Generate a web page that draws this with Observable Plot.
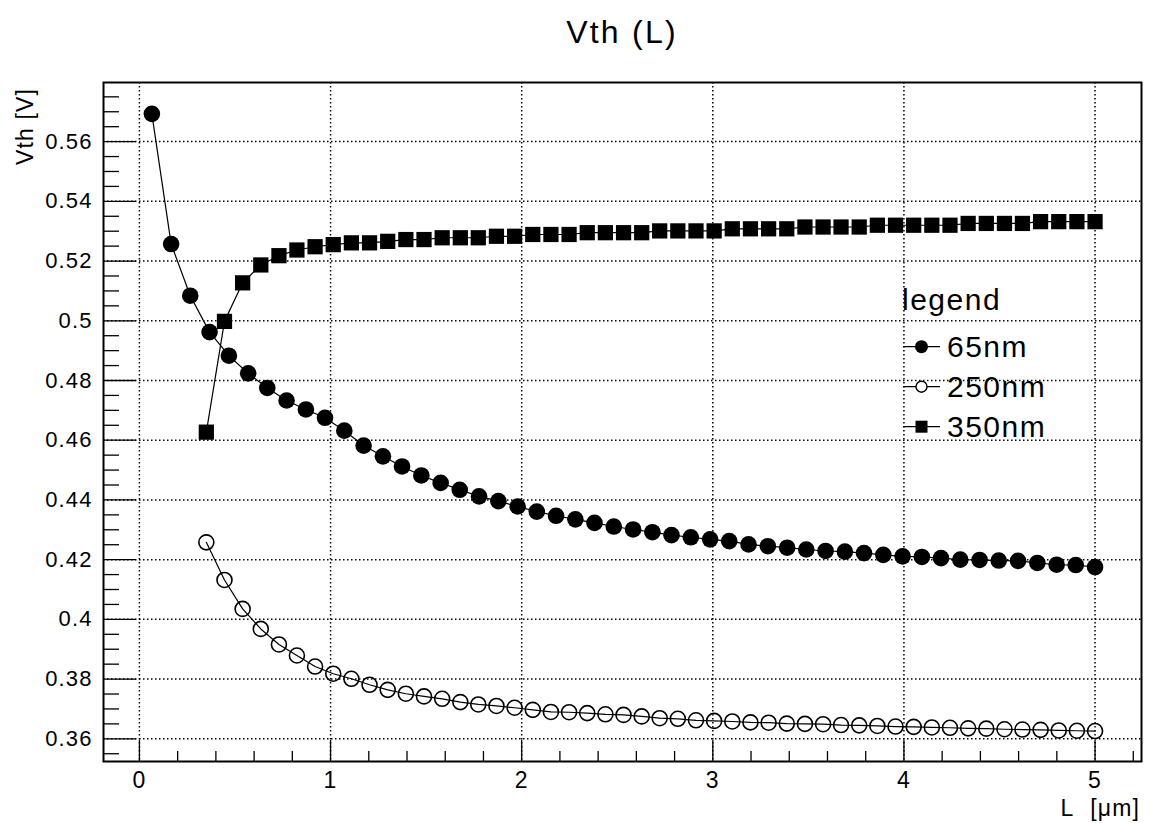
<!DOCTYPE html>
<html>
<head>
<meta charset="utf-8">
<script src="https://cdn.jsdelivr.net/npm/d3@7"></script>
<script src="https://cdn.jsdelivr.net/npm/@observablehq/plot@0.6"></script>
<style>
html, body { margin: 0; padding: 0; background: #fff; }
#chart svg text { letter-spacing: 0.05em; }
</style>
</head>
<body>
<div id="chart"></div>
<script>
// ---------- data ----------
const title = "Vth (L)";
const xLabel = "L [\u03bcm]";
const yLabel = "Vth [V]";
const legendTitle = "legend";
const seriesNames = ["65nm", "250nm", "350nm"];

const xTicks = [0, 1, 2, 3, 4, 5];
const xTickLabels = ["0", "1", "2", "3", "4", "5"];
const yTicks = [0.36, 0.38, 0.40, 0.42, 0.44, 0.46, 0.48, 0.50, 0.52, 0.54, 0.56];
const yTickLabels = ["0.36", "0.38", "0.4", "0.42", "0.44", "0.46", "0.48", "0.5", "0.52", "0.54", "0.56"];

const L65 = [0.065, 0.166, 0.266, 0.367, 0.468, 0.569, 0.669, 0.770, 0.871, 0.971,
             1.072, 1.173, 1.274, 1.374, 1.475, 1.576, 1.676, 1.777, 1.878, 1.979,
             2.079, 2.180, 2.281, 2.381, 2.482, 2.583, 2.684, 2.784, 2.885, 2.986,
             3.086, 3.187, 3.288, 3.389, 3.489, 3.590, 3.691, 3.791, 3.892, 3.993,
             4.094, 4.194, 4.295, 4.396, 4.496, 4.597, 4.698, 4.799, 4.899, 5.000];
const Vth65 = [0.5693, 0.5257, 0.5084, 0.4962, 0.4883, 0.4824, 0.4775, 0.4733, 0.4703, 0.4675,
               0.4632, 0.4582, 0.4546, 0.4512, 0.4482, 0.4457, 0.4434, 0.4412, 0.4396, 0.4378,
               0.4361, 0.4347, 0.4335, 0.4323, 0.4311, 0.4301, 0.4292, 0.4282, 0.4275, 0.4268,
               0.4262, 0.4251, 0.4245, 0.4240, 0.4234, 0.4229, 0.4227, 0.4222, 0.4216, 0.4211,
               0.4209, 0.4205, 0.4200, 0.4199, 0.4197, 0.4196, 0.4189, 0.4183, 0.4182, 0.4175];

const L250 = [0.350, 0.445, 0.540, 0.635, 0.730, 0.824, 0.919, 1.014, 1.109, 1.204,
              1.299, 1.394, 1.489, 1.584, 1.679, 1.773, 1.868, 1.963, 2.058, 2.153,
              2.248, 2.343, 2.438, 2.533, 2.628, 2.722, 2.817, 2.912, 3.007, 3.102,
              3.197, 3.292, 3.387, 3.482, 3.577, 3.671, 3.766, 3.861, 3.956, 4.051,
              4.146, 4.241, 4.336, 4.431, 4.526, 4.620, 4.715, 4.810, 4.905, 5.000];
const Vth250 = [0.4258, 0.4132, 0.4035, 0.3968, 0.3916, 0.3879, 0.3842, 0.3818, 0.3801, 0.3781,
                0.3764, 0.3751, 0.3742, 0.3734, 0.3723, 0.3715, 0.3710, 0.3704, 0.3697, 0.3690,
                0.3689, 0.3686, 0.3682, 0.3680, 0.3675, 0.3669, 0.3667, 0.3662, 0.3660, 0.3658,
                0.3655, 0.3654, 0.3651, 0.3650, 0.3649, 0.3646, 0.3645, 0.3643, 0.3641, 0.3640,
                0.3638, 0.3637, 0.3635, 0.3634, 0.3632, 0.3631, 0.3630, 0.3628, 0.3627, 0.3626];

const L350 = [0.350, 0.445, 0.540, 0.635, 0.730, 0.824, 0.919, 1.014, 1.109, 1.204,
              1.299, 1.394, 1.489, 1.584, 1.679, 1.773, 1.868, 1.963, 2.058, 2.153,
              2.248, 2.343, 2.438, 2.533, 2.628, 2.722, 2.817, 2.912, 3.007, 3.102,
              3.197, 3.292, 3.387, 3.482, 3.577, 3.671, 3.766, 3.861, 3.956, 4.051,
              4.146, 4.241, 4.336, 4.431, 4.526, 4.620, 4.715, 4.810, 4.905, 5.000];
const Vth350 = [0.4627, 0.4998, 0.5127, 0.5187, 0.5218, 0.5237, 0.5248, 0.5255, 0.5261, 0.5261,
                0.5266, 0.5272, 0.5272, 0.5278, 0.5278, 0.5278, 0.5283, 0.5283, 0.5289, 0.5289,
                0.5289, 0.5295, 0.5295, 0.5295, 0.5295, 0.5301, 0.5301, 0.5301, 0.5301, 0.5308,
                0.5308, 0.5308, 0.5308, 0.5314, 0.5314, 0.5314, 0.5314, 0.5320, 0.5320, 0.5320,
                0.5320, 0.5320, 0.5326, 0.5326, 0.5326, 0.5326, 0.5332, 0.5332, 0.5332, 0.5332];

// ---------- build ----------
const d65 = L65.map((L, i) => ({L, V: Vth65[i], s: seriesNames[0]}));
const d250 = L250.map((L, i) => ({L, V: Vth250[i], s: seriesNames[1]}));
const d350 = L350.map((L, i) => ({L, V: Vth350[i], s: seriesNames[2]}));

const xMinor = d3.range(0, 27).map(i => +(i * 0.2).toFixed(1)).filter(v => !Number.isInteger(v));
const yMinor = d3.range(71, 116).filter(i => i % 4 !== 0).map(i => +(i * 0.005).toFixed(3));

const FONT = "'Liberation Sans', Arial, Helvetica, sans-serif";
const grid = {stroke: "#000", strokeOpacity: 1, strokeWidth: 1.5, strokeDasharray: "1.5,2.5"};

const plot = Plot.plot({
  width: 1152,
  height: 823,
  marginLeft: 103,
  marginRight: 11,
  marginTop: 82,
  marginBottom: 62,
  style: {fontFamily: FONT, background: "#fff", color: "#000", overflow: "visible"},
  x: {domain: [-0.188, 5.243]},
  y: {domain: [0.3524, 0.5798]},
  marks: [
    Plot.gridX(xTicks, grid),
    Plot.gridY(yTicks, grid),
    Plot.axisY(yTicks, {tickSize: 0, tickPadding: 11, fontSize: 22, label: null,
      tickFormat: d => yTickLabels[yTicks.indexOf(d)]}),
    Plot.axisY(yTicks, {tickSize: -33, fill: "none", label: null, strokeWidth: 1.3}),
    Plot.axisY(yMinor, {tickSize: -16, fill: "none", label: null, strokeWidth: 1.3}),
    Plot.axisX(xTicks, {tickSize: 0, tickPadding: 10, fontSize: 23, label: null,
      tickFormat: d => xTickLabels[xTicks.indexOf(d)]}),
    Plot.axisX(xTicks, {tickSize: -21, fill: "none", label: null, strokeWidth: 1.3}),
    Plot.axisX(xMinor, {tickSize: -10, fill: "none", label: null, strokeWidth: 1.3}),
    Plot.frame({stroke: "#000", strokeWidth: 2}),
    Plot.line(d65, {x: "L", y: "V", stroke: "#000", strokeWidth: 1.2}),
    Plot.dot(d65, {x: "L", y: "V", r: 8.3, fill: "#000", stroke: "none"}),
    Plot.line(d250, {x: "L", y: "V", stroke: "#000", strokeWidth: 1.2}),
    Plot.dot(d250, {x: "L", y: "V", r: 7.5, fill: "none", stroke: "#000", strokeWidth: 1.6}),
    Plot.line(d350, {x: "L", y: "V", stroke: "#000", strokeWidth: 1.2}),
    Plot.dot(d350, {x: "L", y: "V", symbol: "square", r: 8.6, fill: "#000", stroke: "none"})
  ]
});

document.getElementById("chart").appendChild(plot);

// ---------- titles and legend ----------
const svg = d3.select(plot);
const ann = svg.append("g").attr("font-family", FONT).attr("fill", "#000").attr("text-anchor", "start");

ann.append("text").attr("x", 622).attr("y", 43).attr("text-anchor", "middle")
  .attr("font-size", 32).style("letter-spacing", "0.07em").text(title);
ann.append("text").attr("transform", "translate(33,88) rotate(-90)").attr("text-anchor", "end")
  .attr("font-size", 23).text(yLabel);
ann.append("text").attr("x", 1140).attr("y", 816).attr("text-anchor", "end")
  .attr("font-size", 23).style("word-spacing", "0.4em").text(xLabel);

const lg = ann.append("g").attr("font-size", 30).attr("text-anchor", "start");
lg.append("text").attr("x", 902).attr("y", 310).text(legendTitle);
seriesNames.forEach((name, i) => {
  const cy = 346.7 + 40 * i;
  lg.append("line").attr("x1", 903).attr("x2", 940).attr("y1", cy).attr("y2", cy)
    .attr("stroke", "#000").attr("stroke-width", 1.3);
  if (i === 0) {
    lg.append("circle").attr("cx", 921.5).attr("cy", cy).attr("r", 6.5).attr("fill", "#000");
  } else if (i === 1) {
    lg.append("circle").attr("cx", 921.5).attr("cy", cy).attr("r", 5.5)
      .attr("fill", "#fff").attr("stroke", "#000").attr("stroke-width", 1.4);
  } else {
    lg.append("rect").attr("x", 915.5).attr("y", cy - 6).attr("width", 12).attr("height", 12).attr("fill", "#000");
  }
  lg.append("text").attr("x", 947).attr("y", cy + 10.5).attr("text-anchor", "start").text(name);
});
</script>
</body>
</html>
